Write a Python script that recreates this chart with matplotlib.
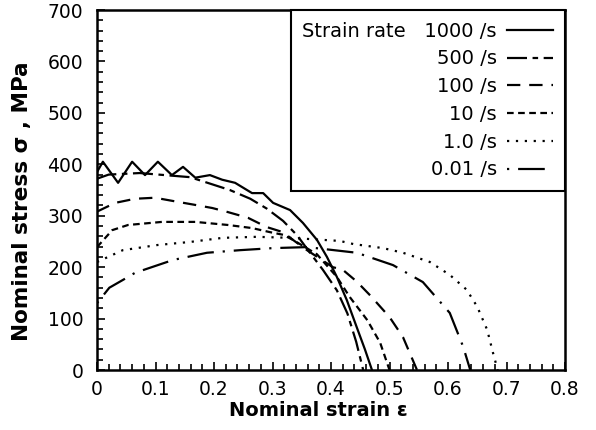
import matplotlib.pyplot as plt
from matplotlib.ticker import MultipleLocator

# Nominal stress-strain curves at different strain rates
rates = ["Strain rate   1000 /s", "500 /s", "100 /s", "10 /s", "1.0 /s", "0.01 /s"]

strain_1000 = [0, 0.010, 0.036, 0.060, 0.082, 0.104, 0.128, 0.147, 0.168, 0.193, 0.214,
               0.236, 0.265, 0.284, 0.301, 0.330, 0.352, 0.376, 0.393, 0.41, 0.427,
               0.445, 0.458, 0.47]
stress_1000 = [385, 405, 364, 405, 379, 405, 379, 395, 374, 379, 370,
               364, 344, 344, 325, 311, 286, 253, 220, 181, 136,
               80, 40, 0]

strain_500 = [0, 0.02, 0.073, 0.159, 0.227, 0.262, 0.29, 0.318, 0.342, 0.364, 0.386,
              0.41, 0.428, 0.443, 0.455]
stress_500 = [372, 380, 383, 375, 350, 333, 314, 290, 262, 228, 195,
              155, 110, 55, 0]

strain_100 = [0, 0.031, 0.065, 0.099, 0.138, 0.168, 0.197, 0.224, 0.258, 0.29, 0.318,
              0.335, 0.359, 0.403, 0.42, 0.444, 0.467, 0.50, 0.523, 0.547]
stress_100 = [308, 325, 333, 335, 327, 321, 315, 307, 296, 278, 268,
              253, 233, 200, 195, 172, 145, 103, 64, 0]

strain_10 = [0, 0.026, 0.053, 0.111, 0.168, 0.224, 0.265, 0.296, 0.318, 0.335, 0.376,
             0.41, 0.432, 0.462, 0.484, 0.50]
stress_10 = [239, 272, 282, 288, 288, 282, 276, 268, 263, 253, 225,
             181, 142, 97, 53, 0]

strain_1 = [0, 0.044, 0.103, 0.159, 0.215, 0.273, 0.33, 0.415, 0.438, 0.489, 0.523,
            0.569, 0.603, 0.632, 0.65, 0.667, 0.677, 0.685]
stress_1 = [210, 233, 243, 249, 257, 259, 257, 251, 245, 237, 228,
            210, 185, 156, 123, 78, 33, 0]

strain_001 = [0, 0.021, 0.044, 0.065, 0.13, 0.188, 0.244, 0.30, 0.359, 0.444, 0.506,
              0.557, 0.603, 0.626, 0.638]
stress_001 = [130, 160, 175, 189, 214, 228, 233, 237, 239, 228, 204,
              171, 111, 45, 0]

curves = [
    (strain_1000, stress_1000, "-"),
    (strain_500, stress_500, (0, (9, 2.5, 2.5, 2.5))),
    (strain_100, stress_100, (0, (6, 4))),
    (strain_10, stress_10, (0, (3, 2))),
    (strain_1, stress_1, (0, (1, 3))),
    (strain_001, stress_001, (0, (1, 4, 12, 4))),
]

plt.rcParams["font.family"] = "DejaVu Sans"

fig = plt.figure(figsize=(5.96, 4.30), dpi=100)
ax = fig.add_axes([0.1628, 0.1395, 0.7852, 0.8372])

for (x, y, ls), lab in zip(curves, rates):
    ax.plot(x, y, color="black", lw=1.6, linestyle=ls, label=lab)

ax.set_xlim(0, 0.8)
ax.set_ylim(0, 700)
ax.xaxis.set_major_locator(MultipleLocator(0.1))
ax.xaxis.set_minor_locator(MultipleLocator(0.02))
ax.yaxis.set_major_locator(MultipleLocator(100))
ax.yaxis.set_minor_locator(MultipleLocator(20))
ax.set_xticks([0, 0.1, 0.2, 0.3, 0.4, 0.5, 0.6, 0.7, 0.8])
ax.set_xticklabels(["0", "0.1", "0.2", "0.3", "0.4", "0.5", "0.6", "0.7", "0.8"])
ax.tick_params(which="both", direction="in", top=False, right=False,
               labelsize=13.5, width=1.2)
ax.tick_params(which="major", length=6)
ax.tick_params(which="minor", length=4)
ax.tick_params(axis="y", pad=10)
ax.tick_params(axis="x", pad=7)
for s in ax.spines.values():
    s.set_linewidth(1.8)

ax.set_xlabel("Nominal strain ε", fontsize=14, fontweight="bold")
ax.set_ylabel("Nominal stress σ , MPa", fontsize=15.5, fontweight="bold")
ax.xaxis.set_label_coords(0.472, -0.085)
ax.yaxis.set_label_coords(-0.138, 0.47)

leg = ax.legend(loc="upper right", markerfirst=False, fontsize=14,
                handlelength=2.4, handletextpad=0.5, labelspacing=0.45,
                borderpad=0.6, borderaxespad=0, fancybox=False,
                edgecolor="black", framealpha=1)
leg.get_frame().set_linewidth(1.5)

fig.savefig("out.png", dpi=100)
